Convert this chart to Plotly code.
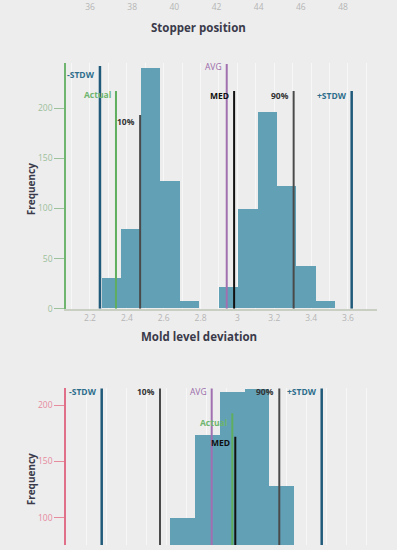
import plotly.graph_objects as go

# ---------------- data ----------------
# Top chart (only its axis is visible)
stopper_ticks = [36, 38, 40, 42, 44, 46, 48]

# Middle chart: Mold level deviation histogram
mold_bin_start = 2.265
mold_bin_width = 0.1055
mold_counts = [30, 79, 240, 127, 7, 0, 21, 99, 196, 122, 42, 7]
mold_ticks = [2.2, 2.4, 2.6, 2.8, 3.0, 3.2, 3.4, 3.6]
mold_ticktext = ["2.2", "2.4", "2.6", "2.8", "3", "3.2", "3.4", "3.6"]
mold_stat_names = ["-STDW", "Actual", "10%", "AVG", "MED", "90%", "+STDW"]
mold_stat_values = [2.254, 2.341, 2.472, 2.942, 2.982, 3.305, 3.620]

# Bottom chart (cut off): histogram
bot_bin_start = 1.04
bot_bin_width = 0.2485
bot_counts = [99, 173, 211, 214, 128]
bot_stat_names = ["-STDW", "10%", "AVG", "Actual", "MED", "90%", "+STDW"]
bot_stat_values = [0.357, 0.940, 1.457, 1.663, 1.693, 2.133, 2.557]

# ---------------- styles ----------------
BG = "#ededed"
BAR = "#62a0b6"
GRID = "#f7f7f7"
FONT = "Open Sans"
stat_style = {
    "-STDW": dict(color="#1f5a7a", width=2.5),
    "+STDW": dict(color="#1f5a7a", width=2.5),
    "Actual": dict(color="#5fae5f", width=2),
    "10%": dict(color="#4a4a4a", width=2),
    "90%": dict(color="#4a4a4a", width=2),
    "AVG": dict(color="#a070b0", width=2),
    "MED": dict(color="#111111", width=2),
}
label_color = {
    "-STDW": "#2d6e8c", "+STDW": "#2d6e8c", "Actual": "#6db56d",
    "10%": "#333333", "90%": "#333333", "AVG": "#9a6aaa", "MED": "#111111",
}
# line top / label y (in chart units) for each panel
mold_line_top = {"-STDW": 242, "Actual": 217, "10%": 193, "AVG": 244,
                 "MED": 217, "90%": 217, "+STDW": 217}
mold_label_y = {"-STDW": 233, "Actual": 214, "10%": 187, "AVG": 241,
                "MED": 213, "90%": 213, "+STDW": 213}
bot_line_top = {"-STDW": 216, "10%": 216, "AVG": 216, "Actual": 193,
                "MED": 172, "90%": 216, "+STDW": 216}
bot_label_y = {"-STDW": 212.4, "10%": 212.4, "AVG": 212.4, "Actual": 184.4,
               "MED": 166.5, "90%": 212.4, "+STDW": 212.4}

W, H = 397, 550
XDOM = [66 / W, 377 / W]


def py(px):
    return 1 - px / H


fig = go.Figure()

# invisible trace for top subplot
fig.add_trace(go.Scatter(x=[40], y=[0], mode="markers", marker=dict(opacity=0),
                         xaxis="x", yaxis="y", showlegend=False, hoverinfo="skip"))

mold_centers = [mold_bin_start + (i + 0.5) * mold_bin_width for i in range(len(mold_counts))]
fig.add_trace(go.Bar(x=mold_centers, y=mold_counts, width=[mold_bin_width] * len(mold_counts),
                     marker=dict(color=BAR, line=dict(width=0)), xaxis="x2", yaxis="y2",
                     showlegend=False))

bot_centers = [bot_bin_start + (i + 0.5) * bot_bin_width for i in range(len(bot_counts))]
fig.add_trace(go.Bar(x=bot_centers, y=bot_counts, width=[bot_bin_width] * len(bot_counts),
                     marker=dict(color=BAR, line=dict(width=0)), xaxis="x3", yaxis="y3",
                     showlegend=False))

shapes, annotations = [], []


def add_stats(names, values, tops, labels, xr, yr):
    for n, v in zip(names, values):
        st = stat_style[n]
        shapes.append(dict(type="line", xref=xr, yref=yr, x0=v, x1=v, y0=0, y1=tops[n],
                           line=dict(color=st["color"], width=st["width"]), layer="above"))
        annotations.append(dict(xref=xr, yref=yr, x=v, y=labels[n], text="<b>%s</b>" % n
                                if n != "AVG" else n,
                                showarrow=False, xanchor="right", yanchor="middle", xshift=-3,
                                font=dict(family=FONT, size=8.5, color=label_color[n])))


add_stats(mold_stat_names, mold_stat_values, mold_line_top, mold_label_y, "x2", "y2")
add_stats(bot_stat_names, bot_stat_values, bot_line_top, bot_label_y, "x3", "y3")

# titles
annotations += [
    dict(xref="paper", yref="paper", x=0.5, y=py(18), text="<b>Stopper position</b>",
         showarrow=False, font=dict(family=FONT, size=11.5, color="#3a3a4a")),
    dict(xref="paper", yref="paper", x=0.5, y=py(340), text="<b>Mold level deviation</b>",
         showarrow=False, font=dict(family=FONT, size=11.5, color="#3a3a4a")),
    dict(xref="paper", yref="paper", x=22 / W, y=py(191), text="<b>Frequency</b>",
         textangle=-90, showarrow=False, font=dict(family=FONT, size=10, color="#3a3a4a")),
    dict(xref="paper", yref="paper", x=22 / W, y=py(512), text="<b>Frequency</b>",
         textangle=-90, showarrow=False, font=dict(family=FONT, size=10, color="#3a3a4a")),
]

tickfont_gray = dict(family=FONT, size=8.5, color="#b5b5b5")

fig.update_layout(
    width=W, height=H, margin=dict(l=0, r=0, t=0, b=0),
    paper_bgcolor=BG, plot_bgcolor=BG, bargap=0, showlegend=False,
    shapes=shapes, annotations=annotations,
    # top (stopper) axis
    xaxis=dict(domain=XDOM, anchor="y", range=[34.862, 49.613], tickvals=stopper_ticks,
               showgrid=False, zeroline=False, showline=False, ticks="",
               tickfont=tickfont_gray, ticklabelstandoff=-1),
    yaxis=dict(domain=[0.998, 1.0], anchor="x", visible=False, range=[0, 1]),
    # middle axis
    xaxis2=dict(domain=XDOM, anchor="y2", range=[2.0698, 3.7574], tickvals=mold_ticks,
                ticktext=mold_ticktext, showgrid=True, gridcolor=GRID, gridwidth=1,
                minor=dict(dtick=0.1, showgrid=True, gridcolor=GRID, gridwidth=1),
                zeroline=False, showline=True, linecolor="#c9cfc2", linewidth=1.5,
                ticks="", tickfont=tickfont_gray),
    yaxis2=dict(domain=[py(311.5), py(64)], anchor="x2", range=[0, 244.5],
                tickvals=[0, 50, 100, 150, 200], showgrid=False, zeroline=False,
                showline=True, linecolor="#6fb56f", linewidth=1.5, ticks="outside",
                ticklen=10, tickcolor="#9cc29c", tickwidth=1,
                tickfont=dict(family=FONT, size=8.5, color="#9cbf9c")),
    # bottom axis
    xaxis3=dict(domain=XDOM, anchor="y3", range=[0, 3.11], showticklabels=False,
                showgrid=True, gridcolor=GRID, dtick=0.2,
                zeroline=False, showline=False, ticks=""),
    yaxis3=dict(domain=[0, py(392)], anchor="x3", range=[75.55, 215],
                tickvals=[100, 150, 200], showgrid=False, zeroline=False,
                showline=True, linecolor="#e0708a", linewidth=1.5, ticks="outside",
                ticklen=10, tickcolor="#e68a9e", tickwidth=1,
                tickfont=dict(family=FONT, size=8.5, color="#e68a9e")),
)

fig.write_html("out.html", config={"displayModeBar": False},
               post_script="document.body.style.margin='0';document.body.style.padding='0';"
                           "document.body.style.background='%s';" % BG)
